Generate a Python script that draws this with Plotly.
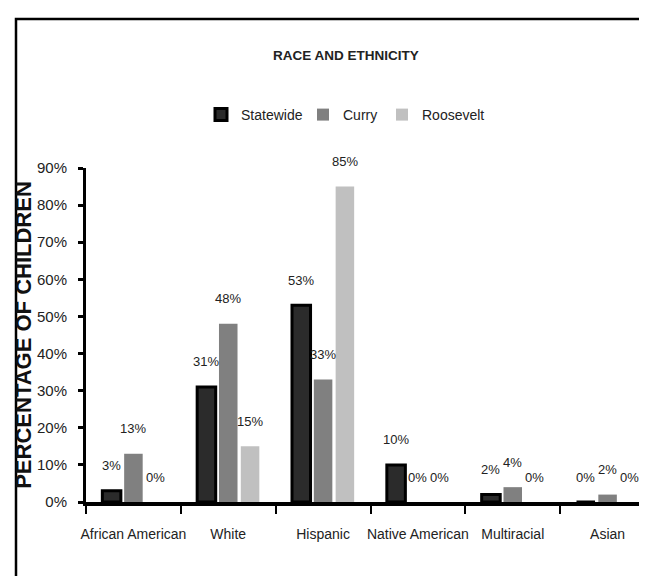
import plotly.graph_objects as go

categories = ["African American", "White", "Hispanic", "Native American", "Multiracial", "Asian"]
series_names = ["Statewide", "Curry", "Roosevelt"]
statewide = [3, 31, 53, 10, 2, 0]
curry = [13, 48, 33, 0, 4, 2]
roosevelt = [0, 15, 85, 0, 0, 0]
y_ticks = [0, 10, 20, 30, 40, 50, 60, 70, 80, 90]

series_values = [statewide, curry, roosevelt]
fills = ["#2b2b2b", "#808080", "#c0c0c0"]
outlines = ["#000000", "#808080", "#c0c0c0"]
outline_w = [3, 0, 0]

SANS = "Liberation Sans, Arial, sans-serif"
TXT = "#222222"

W, H = 647, 576
ML, MR, MT, MB = 78, 0, 160, 82

BARGAP = 0.31
fig = go.Figure()
legend_ids = ["legend", "legend2", "legend3"]
for name, vals, fc, lc, lw, lg in zip(series_names, series_values, fills, outlines, outline_w, legend_ids):
    fig.add_trace(go.Bar(
        name=name, x=categories, y=vals,
        marker=dict(color=fc, line=dict(color=lc, width=lw)),
        legend=lg, showlegend=True,
    ))

slot = (1 - BARGAP) / len(series_names)
for j, vals in enumerate(series_values):
    for i, v in enumerate(vals):
        fig.add_annotation(
            x=i + (j - 1) * slot, y=v, xref="x", yref="y",
            text=f"{v}%", showarrow=False, yanchor="middle", yshift=25,
            font=dict(family=SANS, size=13, color=TXT),
        )

leg_px = [193, 295, 374]
leg_common = dict(orientation="h", xref="container", yref="container",
                  xanchor="left", yanchor="middle", y=1 - 107 / H,
                  font=dict(family=SANS, size=14, color=TXT),
                  bgcolor="rgba(0,0,0,0)", itemwidth=30)
fig.update_layout(
    showlegend=True,
    legend=dict(x=leg_px[0] / W, **leg_common),
    legend2=dict(x=leg_px[1] / W, **leg_common),
    legend3=dict(x=leg_px[2] / W, **leg_common),
)

fig.update_layout(
    width=W, height=H,
    margin=dict(l=ML, r=MR, t=MT, b=MB, autoexpand=False),
    paper_bgcolor="white", plot_bgcolor="white",
    barmode="group", bargap=BARGAP, bargroupgap=0.15,
    title=dict(text="<b>RACE AND ETHNICITY</b>", x=338 / W, xanchor="center",
               y=1 - 47 / H, yanchor="middle", yref="container",
               font=dict(family=SANS, size=13.5, color=TXT)),
    xaxis=dict(showgrid=False, showline=True, linecolor="black", linewidth=4,
               ticks="outside", tickson="boundaries", ticklen=8, tickwidth=2,
               tickcolor="black", ticklabelstandoff=16, tickangle=0,
               tickfont=dict(family=SANS, size=14, color=TXT)),
    yaxis=dict(range=[0, 90], tickvals=y_ticks, ticktext=[f"{t}%" for t in y_ticks],
               showgrid=False, zeroline=False, showline=True, linecolor="black", linewidth=3,
               ticks="outside", ticklen=5, tickwidth=3, tickcolor="black",
               ticklabelstandoff=8,
               tickfont=dict(family=SANS, size=15, color=TXT),
               title=dict(text="<b>PERCENTAGE OF CHILDREN</b>", standoff=0,
                          font=dict(family=SANS, size=22, color="#111111"))),
)

# outer frame (partially off-canvas, like the reference)
pw = W - ML - MR
ph = H - MT - MB
fig.add_shape(type="rect", xref="paper", yref="paper",
              x0=(8 - ML) / pw, x1=(W + 10 - ML) / pw,
              y0=(H - MB - (H + 10)) / ph, y1=(H - MB - 11) / ph,
              line=dict(color="black", width=2.5), fillcolor="rgba(0,0,0,0)", layer="below")

fig.write_html("out.html")
